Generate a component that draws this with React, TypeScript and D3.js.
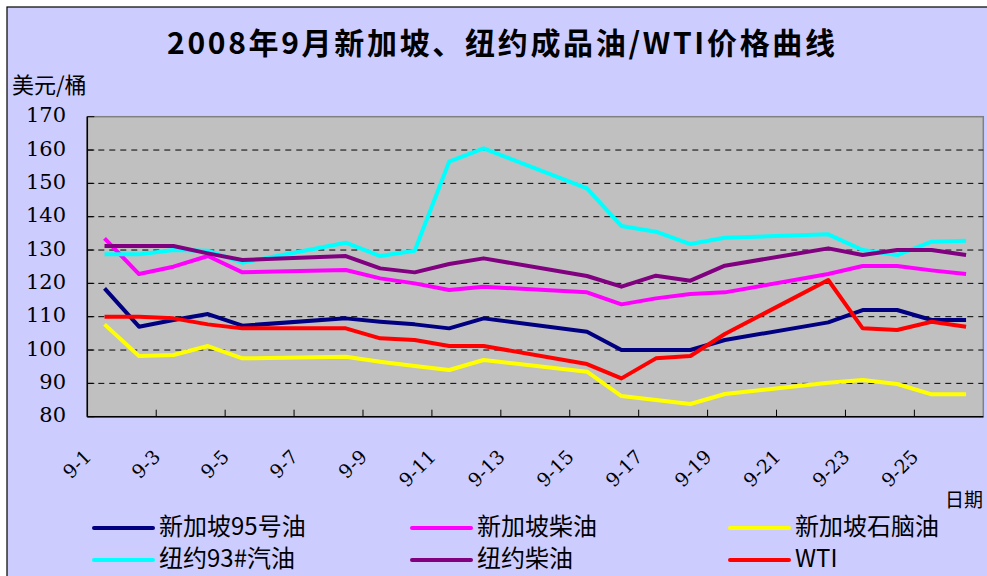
import React from "react";
import * as d3 from "d3";

// categories on the x axis (every calendar day)
const categories = [
  "9-1", "9-2", "9-3", "9-4", "9-5", "9-6", "9-7", "9-8", "9-9", "9-10",
  "9-11", "9-12", "9-13", "9-14", "9-15", "9-16", "9-17", "9-18", "9-19", "9-20",
  "9-21", "9-22", "9-23", "9-24", "9-25", "9-26",
];
// days that have prices
const tradeDays = [
  "9-1", "9-2", "9-3", "9-4", "9-5", "9-8", "9-9", "9-10", "9-11", "9-12",
  "9-15", "9-16", "9-17", "9-18", "9-19", "9-22", "9-23", "9-24", "9-25", "9-26",
];
const xLabels = ["9-1", "9-3", "9-5", "9-7", "9-9", "9-11", "9-13", "9-15", "9-17", "9-19", "9-21", "9-23", "9-25"];
const yTicks = [80, 90, 100, 110, 120, 130, 140, 150, 160, 170];

const sg95 = [118.5, 107, 109, 110.8, 107.3, 109.5, 108.5, 107.7, 106.5, 109.5, 105.5, 100, 100, 100, 103, 108.3, 112, 112, 109, 109];
const sgDiesel = [133.5, 122.8, 125, 128.2, 123.3, 124, 121.5, 120, 118, 119, 117.3, 113.7, 115.5, 116.8, 117.3, 122.8, 125.2, 125.2, 123.9, 122.8];
const sgNaphtha = [107.7, 98.2, 98.5, 101.2, 97.5, 98, 96.5, 95.2, 94, 97, 93.5, 86.2, 85, 83.8, 86.8, 90.2, 91, 89.8, 86.7, 86.7];
const ny93 = [128.7, 128.7, 130, 129.8, 126.2, 132.2, 128.2, 129.8, 156.5, 160.5, 148.5, 137.2, 135.5, 131.8, 133.7, 134.7, 130, 128.5, 132.5, 132.8];
const nyDiesel = [131.2, 131.2, 131.2, 129, 127, 128.2, 124.5, 123.3, 125.8, 127.5, 122.2, 119, 122.3, 120.8, 125.3, 130.5, 128.5, 130, 130, 128.5];
const wti = [110, 110, 109.5, 107.7, 106.5, 106.5, 103.5, 103, 101.2, 101.2, 95.8, 91.5, 97.5, 98.2, 104.8, 121, 106.5, 106, 108.5, 107];

const seriesNames = ["新加坡95号油", "新加坡柴油", "新加坡石脑油", "纽约93#汽油", "纽约柴油", "WTI"];
const seriesColors = ["#000080", "#FF00FF", "#FFFF00", "#00FFFF", "#800080", "#FF0000"];
const seriesValues = [sg95, sgDiesel, sgNaphtha, ny93, nyDiesel, wti];

const W = 987;
const H = 576;
const plot = { left: 87.3, right: 983.3, top: 116.7, bottom: 416.7 };

const serif = "DejaVu Serif";
const cjk = "Noto Sans CJK SC, Noto Sans, sans-serif";

export default function App() {
  const x = d3.scaleBand().domain(categories).range([plot.left, plot.right]);
  const y = d3.scaleLinear().domain([80, 170]).range([plot.bottom, plot.top]);
  const cx = (c: string) => (x(c) as number) + x.bandwidth() / 2;

  const line = d3
    .line<number>()
    .x((_, i) => cx(tradeDays[i]))
    .y((v) => y(v));

  // tick marks every 2 categories
  const xTickPos = categories.filter((_, i) => i > 0 && i % 2 === 0).map((c) => x(c) as number);

  const legendCols = [94, 412, 730];
  const legendRows = [528, 560];

  return (
    <svg width={W} height={H} style={{ position: "absolute", left: 0, top: 0 }}>
      <rect x={0} y={0} width={W} height={H} fill="#fff" />
      <rect x={7} y={7} width={W + 20} height={H + 20} fill="#CCCCFF" stroke="#000" strokeWidth={1.2} />

      <text
        x={167}
        y={46}
        textLength={668}
        lengthAdjust="spacing"
        fontFamily={cjk}
        fontSize={30}
        fontWeight={600}
        dominantBaseline="middle"
        fill="#000"
      >
        2008年9月新加坡、纽约成品油/WTI价格曲线
      </text>
      <text x={12} y={87} fontFamily={cjk} fontSize={22} dominantBaseline="middle">
        美元/桶
      </text>
      <text x={945} y={502} fontFamily={cjk} fontSize={19} dominantBaseline="middle">
        日期
      </text>

      {/* plot area */}
      <rect
        x={plot.left}
        y={plot.top}
        width={plot.right - plot.left}
        height={plot.bottom - plot.top}
        fill="#C0C0C0"
        stroke="#808080"
        strokeWidth={1.5}
      />
      {yTicks
        .filter((t) => t > 80 && t < 170)
        .map((t) => (
          <line key={t} x1={plot.left} x2={plot.right} y1={y(t)} y2={y(t)} stroke="#000" strokeDasharray="6,5" strokeWidth={1} />
        ))}

      {/* axes */}
      <line x1={plot.left} x2={plot.left} y1={plot.top} y2={plot.bottom} stroke="#000" strokeWidth={1.5} />
      <line x1={plot.left} x2={plot.right} y1={plot.bottom} y2={plot.bottom} stroke="#000" strokeWidth={1.5} />
      {yTicks.map((t) => (
        <g key={t}>
          <line x1={plot.left} x2={plot.left + 7} y1={y(t)} y2={y(t)} stroke="#000" strokeWidth={1} />
          <text x={66} y={y(t)} textAnchor="end" dominantBaseline="middle" fontFamily={serif} fontSize={21}>
            {t}
          </text>
        </g>
      ))}
      {xTickPos.map((p, i) => (
        <line key={i} x1={p} x2={p} y1={plot.bottom} y2={plot.bottom - 7} stroke="#000" strokeWidth={1} />
      ))}
      {xLabels.map((c) => (
        <text
          key={c}
          transform={`translate(${cx(c) - 12},${458}) rotate(-45)`}
          textAnchor="end"
          fontFamily={serif}
          fontSize={19}
        >
          {c}
        </text>
      ))}

      {/* series */}
      {seriesValues.map((vals, i) => (
        <path key={i} d={line(vals) || ""} fill="none" stroke={seriesColors[i]} strokeWidth={4} strokeLinejoin="round" />
      ))}

      {/* legend */}
      {seriesNames.map((name, i) => {
        const lx = legendCols[i % 3];
        const ly = legendRows[Math.floor(i / 3)];
        return (
          <g key={name}>
            <line x1={lx} x2={lx + 59} y1={ly} y2={ly} stroke={seriesColors[i]} strokeWidth={4} strokeLinecap="round" />
            <text x={lx + 65} y={ly} dominantBaseline="middle" fontFamily={cjk} fontSize={24}>
              {name}
            </text>
          </g>
        );
      })}
    </svg>
  );
}
